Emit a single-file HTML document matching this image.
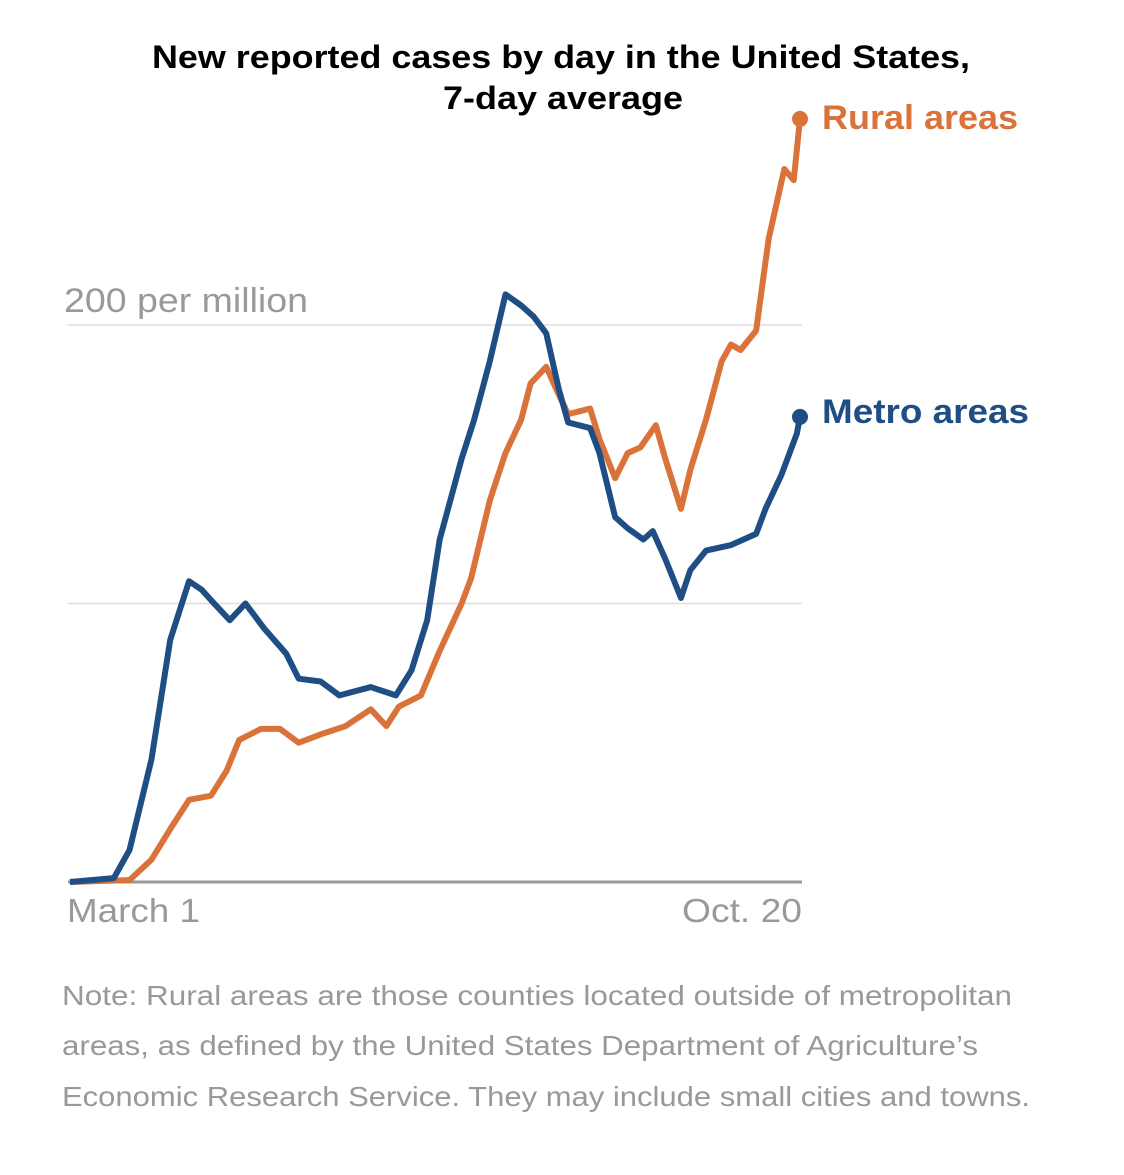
<!DOCTYPE html>
<html><head><meta charset="utf-8"><style>
body{margin:0;background:#fff;width:1124px;height:1170px;overflow:hidden;font-family:"Liberation Sans",sans-serif}
</style></head><body>
<svg width="1124" height="1170" xmlns="http://www.w3.org/2000/svg">
<text x="152" y="68" textLength="818" lengthAdjust="spacingAndGlyphs" font-size="32" font-weight="bold" fill="#000">New reported cases by day in the United States,</text>
<text x="443" y="109" textLength="240" lengthAdjust="spacingAndGlyphs" font-size="32" font-weight="bold" fill="#000">7-day average</text>
<g id="grid"></g>
<g id="series"></g>
<text x="64" y="312" textLength="244" lengthAdjust="spacingAndGlyphs" font-size="34" fill="#999">200 per million</text>
<text x="67" y="922" textLength="133" lengthAdjust="spacingAndGlyphs" font-size="33" fill="#999">March 1</text>
<text x="682" y="922" textLength="120" lengthAdjust="spacingAndGlyphs" font-size="33" fill="#999">Oct. 20</text>
<text x="822" y="129" textLength="196" lengthAdjust="spacingAndGlyphs" font-size="34" font-weight="bold" fill="#d9733a">Rural areas</text>
<text x="822" y="423" textLength="207" lengthAdjust="spacingAndGlyphs" font-size="34" font-weight="bold" fill="#1f4e85">Metro areas</text>
<g font-size="28" fill="#999">
<text x="62" y="1005" textLength="950" lengthAdjust="spacingAndGlyphs">Note: Rural areas are those counties located outside of metropolitan</text>
<text x="62" y="1055" textLength="916" lengthAdjust="spacingAndGlyphs">areas, as defined by the United States Department of Agriculture’s</text>
<text x="62" y="1106" textLength="968" lengthAdjust="spacingAndGlyphs">Economic Research Service. They may include small cities and towns.</text>
</g>
</svg>
<script>
const metroDays=[0,14,19,26,32,38,42,46,51,56,62,69,73,80,86,96,104,109,114,118,125,129,134,139,144,148,152,156,159,166,169,174,178,183,186,190,195,198,203,211,219,222,227,232,233];
const metroVals=[0,1.4,11.5,44,87,108,105,100,94,100,91,82,73,72,67,70,67,76,94,123,152,166,187,211,207,203,197,177,165,163,154,131,127,123,126,116,102,112,119,121,125,134,146,161,167];
const ruralDays=[0,19,26,32,38,45,50,54,61,67,73,80,88,96,101,105,112,118,125,128,134,139,144,147,152,156,159,166,169,174,178,182,187,190,195,198,203,208,211,214,219,223,228,231,233];
const ruralVals=[0,0.7,8,19,29.5,31,40,51,55,55,50,53,56,62,56,63,67,83,100,109,137,154,166,179,185,175,168,170,159,145,154,156,164,152,134,148,166,187,193,191,198,231,256,252,274];
const gridVals=[0,100,200];
const NS='http://www.w3.org/2000/svg';
const x=d=>70+d*(730/233);
const y=v=>882-v*2.785;
const grid=document.getElementById('grid'),ser=document.getElementById('series');
gridVals.forEach(g=>{const l=document.createElementNS(NS,'line');
l.setAttribute('x1',68);l.setAttribute('x2',802);l.setAttribute('y1',y(g));l.setAttribute('y2',y(g));
l.setAttribute('stroke',g===0?'#999':'#ddd');l.setAttribute('stroke-width',g===0?3:1.5);


grid.appendChild(l);});
function draw(days,vals,color,name){
const p=document.createElementNS(NS,'path');
p.setAttribute('d',days.map((d,i)=>(i?'L':'M')+x(d)+','+y(vals[i])).join(''));
p.setAttribute('fill','none');p.setAttribute('stroke',color);p.setAttribute('stroke-width',6);p.setAttribute('stroke-linejoin','round');


ser.appendChild(p);
const c=document.createElementNS(NS,'circle');
c.setAttribute('cx',x(days[days.length-1]));c.setAttribute('cy',y(vals[vals.length-1]));c.setAttribute('r',8);c.setAttribute('fill',color);


ser.appendChild(c);}
draw(ruralDays,ruralVals,'#d9733a','rural');
draw(metroDays,metroVals,'#1f4e85','metro');
</script>
</body></html>
